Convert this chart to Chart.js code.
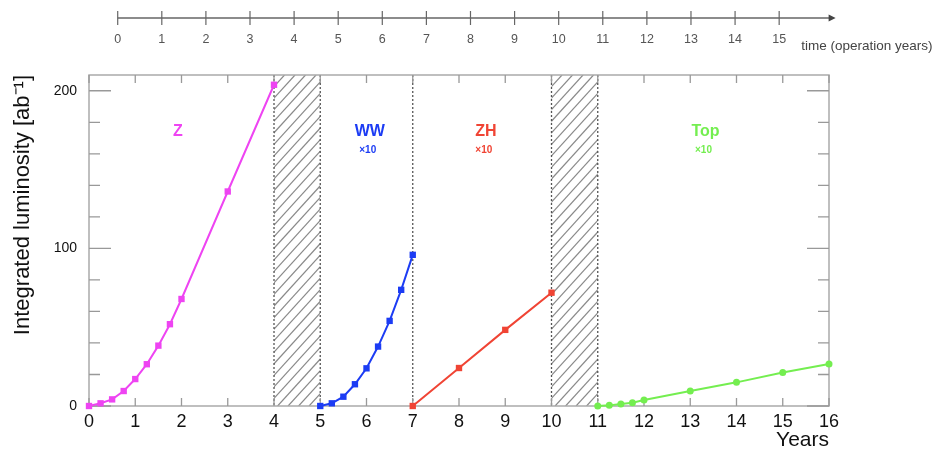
<!DOCTYPE html>
<html>
<head>
<meta charset="utf-8">
<script src="https://cdn.jsdelivr.net/npm/chart.js@4.4.1/dist/chart.umd.min.js"></script>
<style>
  body { margin: 0; background: #fff; }
  #wrap { width: 946px; height: 453px; }
</style>
</head>
<body>
<div id="wrap"><canvas id="lumiChart" width="946" height="453"></canvas></div>
<script>
// integrated luminosity per run (WW, ZH, Top already scaled x10)
const zYears = [0, 0.25, 0.5, 0.75, 1, 1.25, 1.5, 1.75, 2, 3, 4];
const zLumi = [0, 1.7, 4.2, 9.5, 17.1, 26.5, 38.3, 51.9, 67.9, 136.1, 203.8];

const wwYears = [5, 5.25, 5.5, 5.75, 6, 6.25, 6.5, 6.75, 7];
const wwLumi = [0, 1.7, 5.9, 13.8, 23.9, 37.7, 54, 73.7, 95.9];

const zhYears = [7, 8, 9, 10];
const zhLumi = [0, 24.1, 48.3, 71.9];

const topYears = [11, 11.25, 11.5, 11.75, 12, 13, 14, 15, 16];
const topLumi = [0, 0.4, 1.3, 2.1, 3.8, 9.5, 15, 21.2, 26.7];

const xTicks = [0, 1, 2, 3, 4, 5, 6, 7, 8, 9, 10, 11, 12, 13, 14, 15, 16];
const yTicks = [0, 100, 200];
const timeTicks = [0, 1, 2, 3, 4, 5, 6, 7, 8, 9, 10, 11, 12, 13, 14, 15];

// shutdown periods (hatched) and run boundaries (dotted)
const shutdowns = [[4, 5], [10, 11]];
const boundaries = [4, 5, 7, 10, 11];

const runLabels = ['Z', 'WW', 'ZH', 'Top'];
const runLabelX = [1.92, 6.07, 8.58, 13.33];
const runScaled = [false, true, true, true];

const cZ = '#ee44f2';
const cWW = '#1c3cf4';
const cZH = '#f04434';
const cTop = '#74ee50';
const runColors = [cZ, cWW, cZH, cTop];

function pts(xs, ys) {
    return xs.map((x, i) => ({ x: x, y: ys[i] }));
}

function series(xs, ys, color, style, r) {
    return {
        data: pts(xs, ys),
        borderColor: color,
        backgroundColor: color,
        borderWidth: 2,
        pointStyle: style,
        pointRadius: r,
        pointBorderWidth: 0,
        clip: false,
        tension: 0
    };
}

const rootStyle = {
    id: 'rootStyle',
    beforeDatasetsDraw(chart) {
        const ctx = chart.ctx;
        const a = chart.chartArea;
        const x = chart.scales.x;
        const y = chart.scales.y;
        ctx.save();

        // hatched shutdown bands
        shutdowns.forEach(s => {
            const x0 = x.getPixelForValue(s[0]);
            const x1 = x.getPixelForValue(s[1]);
            ctx.save();
            ctx.beginPath();
            ctx.rect(x0, a.top, x1 - x0, a.bottom - a.top);
            ctx.clip();
            ctx.strokeStyle = '#8a8a8a';
            ctx.lineWidth = 1.2;
            const h = a.bottom - a.top;
            const run = h / 1.1;
            for (let k = -run; k < (x1 - x0) + 12; k += 10.5) {
                ctx.beginPath();
                ctx.moveTo(x0 + k, a.bottom);
                ctx.lineTo(x0 + k + run, a.top);
                ctx.stroke();
            }
            ctx.restore();
        });

        // dotted run boundaries
        ctx.strokeStyle = '#555';
        ctx.lineWidth = 1.3;
        ctx.setLineDash([2, 2]);
        boundaries.forEach(b => {
            const px = x.getPixelForValue(b);
            ctx.beginPath();
            ctx.moveTo(px, a.top);
            ctx.lineTo(px, a.bottom);
            ctx.stroke();
        });
        ctx.setLineDash([]);

        // frame
        ctx.strokeStyle = '#aaa';
        ctx.lineWidth = 1.5;
        ctx.strokeRect(a.left, a.top, a.right - a.left, a.bottom - a.top);

        // inward ticks
        ctx.lineWidth = 1.3;
        ctx.strokeStyle = '#999';
        for (let v = 0; v <= 210; v += 20) {
            const py = y.getPixelForValue(v);
            const len = yTicks.includes(v) ? 22 : 11;
            ctx.beginPath();
            ctx.moveTo(a.left, py); ctx.lineTo(a.left + len, py);
            ctx.moveTo(a.right, py); ctx.lineTo(a.right - len, py);
            ctx.stroke();
        }
        xTicks.forEach(v => {
            const px = x.getPixelForValue(v);
            ctx.beginPath();
            ctx.moveTo(px, a.top); ctx.lineTo(px, a.top + 8);
            ctx.moveTo(px, a.bottom); ctx.lineTo(px, a.bottom - 8);
            ctx.stroke();
        });
        ctx.restore();
    },
    afterDraw(chart) {
        const ctx = chart.ctx;
        const x = chart.scales.x;
        const y = chart.scales.y;
        const t = chart.scales.xt;
        ctx.save();

        // run labels
        ctx.textAlign = 'center';
        ctx.textBaseline = 'middle';
        runLabels.forEach((txt, i) => {
            const px = x.getPixelForValue(runLabelX[i]);
            ctx.fillStyle = runColors[i];
            ctx.font = 'bold 16px "Liberation Sans", Arial, sans-serif';
            ctx.fillText(txt, px, y.getPixelForValue(174));
            if (runScaled[i]) {
                ctx.font = 'bold 10px "Liberation Sans", Arial, sans-serif';
                ctx.fillText('\u00d710', px - 2, y.getPixelForValue(162));
            }
        });

        // operation-years timeline on top
        const ly = 18;
        const t0 = t.getPixelForValue(0);
        const tEnd = t.getPixelForValue(16.28);
        ctx.strokeStyle = '#666';
        ctx.fillStyle = '#444';
        ctx.lineWidth = 1.5;
        ctx.beginPath();
        ctx.moveTo(t0, ly);
        ctx.lineTo(tEnd - 4, ly);
        ctx.stroke();
        ctx.beginPath();
        ctx.moveTo(tEnd, ly);
        ctx.lineTo(tEnd - 7, ly - 3.5);
        ctx.lineTo(tEnd - 7, ly + 3.5);
        ctx.closePath();
        ctx.fill();
        ctx.lineWidth = 1.2;
        ctx.font = '12.5px "Liberation Sans Narrow", "Liberation Sans", sans-serif';
        ctx.fillStyle = '#555';
        timeTicks.forEach(v => {
            const px = t.getPixelForValue(v);
            ctx.beginPath();
            ctx.moveTo(px, ly - 7);
            ctx.lineTo(px, ly + 7);
            ctx.stroke();
            ctx.fillText(String(v), px, 40);
        });
        ctx.textAlign = 'left';
        ctx.fillStyle = '#444';
        ctx.font = '13.5px "Liberation Sans Narrow", "Liberation Sans", sans-serif';
        ctx.fillText('time (operation years)', t.getPixelForValue(15.5), 46);
        ctx.restore();
    }
};

const ctx = document.getElementById('lumiChart').getContext('2d');
new Chart(ctx, {
    type: 'line',
    data: {
        datasets: [
            series(zYears, zLumi, cZ, 'rect', 4.5),
            series(wwYears, wwLumi, cWW, 'rect', 4.5),
            series(zhYears, zhLumi, cZH, 'rect', 4.5),
            series(topYears, topLumi, cTop, 'circle', 3.5)
        ]
    },
    options: {
        responsive: false,
        animation: false,
        events: [],
        layout: {
            padding: { top: 75, right: 117, left: 0, bottom: 0 }
        },
        plugins: {
            legend: { display: false },
            tooltip: { enabled: false }
        },
        scales: {
            x: {
                type: 'linear',
                min: 0,
                max: 16,
                afterBuildTicks: s => { s.ticks = xTicks.map(v => ({ value: v })); },
                afterFit: s => { s.height = 47; },
                grid: { display: false },
                border: { display: false },
                ticks: {
                    padding: -3,
                    color: '#111',
                    font: { family: '"Liberation Sans", Arial, sans-serif', size: 18 }
                },
                title: {
                    display: true,
                    text: 'Years',
                    align: 'end',
                    color: '#111',
                    padding: { top: 0, bottom: 0 },
                    font: { family: '"Liberation Sans", Arial, sans-serif', size: 21 }
                }
            },
            xt: {
                type: 'linear',
                position: 'top',
                display: false,
                min: -0.651,
                max: 16.13
            },
            y: {
                type: 'linear',
                min: 0,
                max: 210,
                afterBuildTicks: s => { s.ticks = yTicks.map(v => ({ value: v })); },
                afterFit: s => { s.width = 89; },
                grid: { display: false },
                border: { display: false },
                ticks: {
                    padding: 4,
                    color: '#111',
                    font: { family: '"Liberation Sans", Arial, sans-serif', size: 14 }
                },
                title: {
                    display: true,
                    text: 'Integrated luminosity [ab\u207b\u00b9]',
                    align: 'end',
                    color: '#111',
                    padding: { top: 10, bottom: 0 },
                    font: { family: '"Liberation Sans", Arial, sans-serif', size: 22 }
                }
            }
        }
    },
    plugins: [rootStyle]
});
</script>
</body>
</html>
